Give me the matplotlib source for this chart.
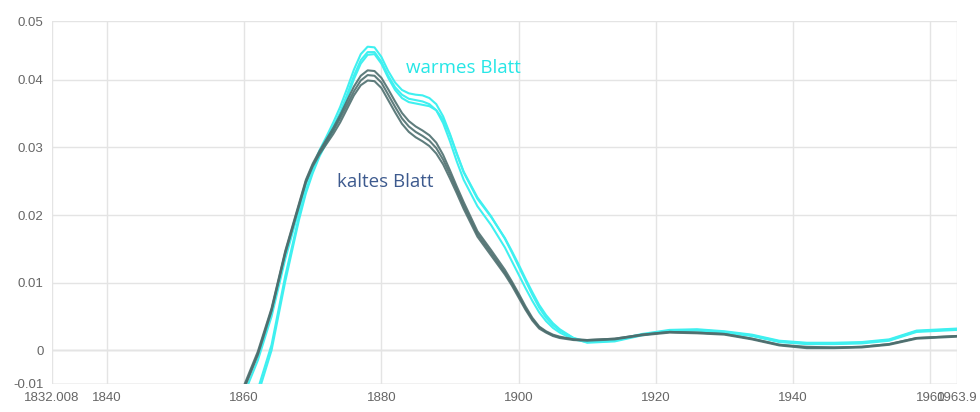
import matplotlib.pyplot as plt

years = [1858, 1860, 1862, 1864, 1866, 1868,
         1869, 1870, 1871, 1872, 1873, 1874, 1875, 1876, 1877, 1878, 1879, 1880,
         1881, 1882, 1883, 1884, 1885, 1886, 1887, 1888, 1889, 1890, 1891, 1892,
         1894, 1896, 1898,
         1899, 1900, 1901, 1902, 1903, 1904, 1905, 1906,
         1908, 1910,
         1914, 1918, 1922, 1926, 1930, 1934, 1938, 1942, 1946, 1950, 1954, 1958, 1963.9]

# kaltes Blatt (dunkel)
kalt_1 = [-0.0118, -0.0052, -0.0002, 0.0062, 0.0147, 0.0217,
          0.0252, 0.0276, 0.0295, 0.0312, 0.0329, 0.0348, 0.0369, 0.0390, 0.0406, 0.0414, 0.0413, 0.0403,
          0.0386, 0.0368, 0.0351, 0.0339, 0.0331, 0.0325, 0.0318, 0.0307, 0.0289, 0.0266, 0.0242, 0.0219,
          0.0176, 0.0148, 0.0119,
          0.0102, 0.0084, 0.0065, 0.0048, 0.0035, 0.0028, 0.0023, 0.0020,
          0.0016, 0.0015,
          0.0017, 0.0023, 0.0027, 0.0026, 0.0024, 0.0017, 0.0008, 0.0005, 0.0004, 0.0005, 0.0009, 0.0018, 0.0021]
kalt_2 = [-0.012, -0.0055, -0.0005, 0.006, 0.0145, 0.0215,
          0.0250, 0.0274, 0.0293, 0.0309, 0.0325, 0.0343, 0.0363, 0.0383, 0.0399, 0.0407, 0.0406, 0.0396,
          0.0378, 0.0360, 0.0343, 0.0331, 0.0323, 0.0317, 0.0310, 0.0299, 0.0282, 0.0260, 0.0237, 0.0214,
          0.0172, 0.0144, 0.0115,
          0.0099, 0.0081, 0.0062, 0.0046, 0.0034, 0.0027, 0.0022, 0.0019,
          0.0016, 0.0015,
          0.0017, 0.0023, 0.0027, 0.0026, 0.0024, 0.0017, 0.0008, 0.0004, 0.0004, 0.0005, 0.0009, 0.0018, 0.0021]
kalt_3 = [-0.0122, -0.0057, -0.0007, 0.0058, 0.0143, 0.0213,
          0.0248, 0.0272, 0.0290, 0.0305, 0.0320, 0.0337, 0.0357, 0.0377, 0.0392, 0.0399, 0.0398, 0.0388,
          0.0370, 0.0352, 0.0335, 0.0323, 0.0315, 0.0309, 0.0302, 0.0291, 0.0275, 0.0254, 0.0232, 0.0209,
          0.0168, 0.0140, 0.0112,
          0.0096, 0.0078, 0.0060, 0.0044, 0.0032, 0.0026, 0.0021, 0.0018,
          0.0015, 0.0014,
          0.0016, 0.0022, 0.0026, 0.0025, 0.0023, 0.0016, 0.0007, 0.0003, 0.0003, 0.0004, 0.0008, 0.0017, 0.002]

# warmes Blatt (cyan)
warm_1 = [-0.013, -0.0065, -0.0015, 0.005, 0.0135, 0.0208,
          0.0245, 0.0272, 0.0296, 0.0316, 0.0337, 0.0360, 0.0387, 0.0415, 0.0438, 0.0449, 0.0448, 0.0434,
          0.0413, 0.0396, 0.0385, 0.0380, 0.0378, 0.0377, 0.0373, 0.0364, 0.0346, 0.0320, 0.0291, 0.0264,
          0.0226, 0.0198, 0.0165,
          0.0145, 0.0124, 0.0103, 0.0082, 0.0063, 0.0048, 0.0037, 0.0029,
          0.0018, 0.0013,
          0.0015, 0.0024, 0.003, 0.0031, 0.0028, 0.0023, 0.0014, 0.0011, 0.0011, 0.0012, 0.0016, 0.0029, 0.0032]
warm_2 = [-0.016, -0.0095, -0.0058, 0.0008, 0.0110, 0.0198,
          0.0236, 0.0265, 0.0290, 0.0311, 0.0331, 0.0352, 0.0378, 0.0406, 0.0429, 0.0441, 0.0441, 0.0427,
          0.0406, 0.0389, 0.0378, 0.0372, 0.0370, 0.0368, 0.0364, 0.0355, 0.0336, 0.0309, 0.0279, 0.0252,
          0.0213, 0.0185, 0.0152,
          0.0132, 0.0112, 0.0092, 0.0073, 0.0056, 0.0043, 0.0033, 0.0026,
          0.0016, 0.0012,
          0.0014, 0.0023, 0.0029, 0.003, 0.0027, 0.0022, 0.0013, 0.001, 0.001, 0.0011, 0.0015, 0.0028, 0.0031]
warm_3 = [-0.017, -0.011, -0.0066, 0.0, 0.0102, 0.0193,
          0.0232, 0.0262, 0.0287, 0.0307, 0.0326, 0.0347, 0.0373, 0.0401, 0.0424, 0.0437, 0.0438, 0.0424,
          0.0403, 0.0385, 0.0373, 0.0367, 0.0365, 0.0363, 0.0361, 0.0355, 0.0341, 0.0318, 0.0290, 0.0263,
          0.0224, 0.0197, 0.0166,
          0.0147, 0.0127, 0.0106, 0.0086, 0.0067, 0.0052, 0.0040, 0.0031,
          0.0018, 0.0011,
          0.0013, 0.0022, 0.0028, 0.0029, 0.0026, 0.0021, 0.0012, 0.0009, 0.0009, 0.001, 0.0014, 0.0027, 0.003]

x_ticks = [1832.008, 1840, 1860, 1880, 1900, 1920, 1940, 1960, 1963.9]
x_labels = ["1832.008", "1840", "1860", "1880", "1900", "1920", "1940", "1960", "1963.9"]
y_ticks = [-0.005, 0, 0.01, 0.02, 0.03, 0.04, 0.0487]
y_labels = ["-0.01", "0", "0.01", "0.02", "0.03", "0.04", "0.05"]

fig = plt.figure(figsize=(9.8, 4.12), dpi=100)
ax = fig.add_axes([0.0531, 0.068, 0.9235, 0.881])

for serie in [warm_1, warm_2, warm_3]:
    ax.plot(years, serie, color="#3ff0f0", linewidth=1.5, solid_joinstyle="round")
for serie in [kalt_1, kalt_2, kalt_3]:
    ax.plot(years, serie, color="#4e6f6f", linewidth=1.5, alpha=0.9, solid_joinstyle="round")

ax.set_xlim(1832.008, 1963.9)
ax.set_ylim(-0.005, 0.0487)
ax.set_xticks(x_ticks)
ax.set_xticklabels(x_labels)
ax.set_yticks(y_ticks)
ax.set_yticklabels(y_labels)

for s in ax.spines.values():
    s.set_visible(False)
ax.grid(True, color="#e4e4e4", linewidth=1)
ax.axhline(0, color="#cccccc", linewidth=1, zorder=0)
ax.axhline(-0.005, color="#cccccc", linewidth=1, zorder=0)
ax.tick_params(length=0, labelsize=9.5, labelcolor="#666666", pad=6)
for lab in ax.get_xticklabels() + ax.get_yticklabels():
    lab.set_family("Liberation Sans")

ax.text(1883.6, 0.0417, "warmes Blatt", color="#26e6e6", fontsize=13.5, family="Open Sans", va="center")
ax.text(1873.5, 0.0249, "kaltes Blatt", color="#3d5a8e", fontsize=13.5, family="Open Sans", va="center")

plt.savefig("out.png", dpi=100)
